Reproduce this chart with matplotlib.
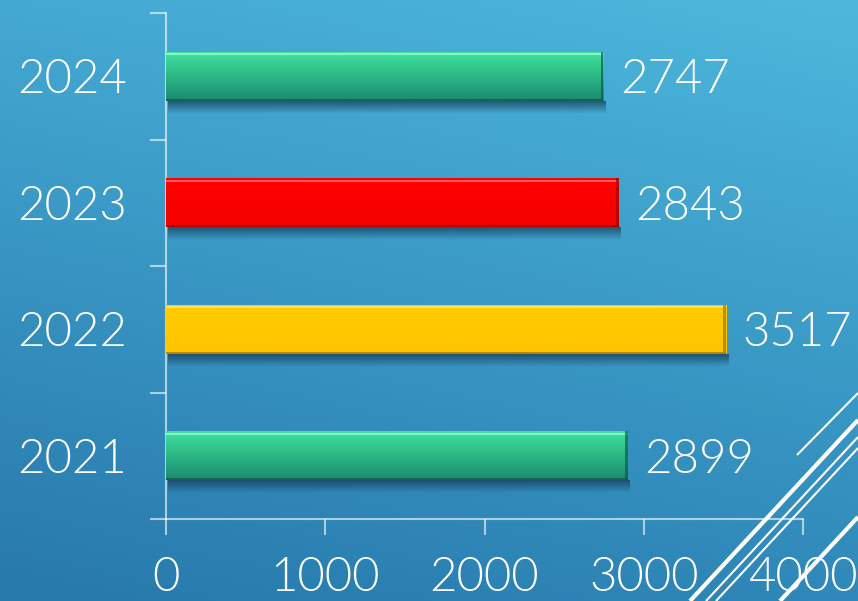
import numpy as np
import matplotlib
matplotlib.use('Agg')
import matplotlib.pyplot as plt
from matplotlib.colors import to_rgb
from matplotlib.patches import Rectangle
from matplotlib.lines import Line2D

years = ['2021', '2022', '2023', '2024']
values = [2899, 3517, 2843, 2747]
bar_top_colors = ['#40e49d', '#ffcc00', '#ff0000', '#40e49d']
bar_bottom_colors = ['#1a8a70', '#ffc400', '#f40000', '#1a8a70']
bar_light = ['#9af7d6', '#ffe370', '#ff6a6a', '#9af7d6']
bar_dark = ['#0f5a48', '#9c7600', '#9a0000', '#0f5a48']
xticks = [0, 1000, 2000, 3000, 4000]

W, H = 858, 601
fig = plt.figure(figsize=(W / 100, H / 100), dpi=100)
plt.rcParams['font.family'] = ['Lato', 'DejaVu Sans']
plt.rcParams['font.weight'] = 300
FS = 34

# background gradient
bg = fig.add_axes([0, 0, 1, 1], zorder=0)
gh, gw = 200, 300
yy, xx = np.mgrid[0:1:gh * 1j, 0:1:gw * 1j]
tl = np.array(to_rgb('#44a9d3')); tr = np.array(to_rgb('#4db8dc'))
bl = np.array(to_rgb('#2778ab')); br = np.array(to_rgb('#2f88b9'))
X = xx[..., None]; Y = yy[..., None]
img = tl * (1 - X) * (1 - Y) + tr * X * (1 - Y) + bl * (1 - X) * Y + br * X * Y
bg.imshow(img, extent=[0, 1, 0, 1], aspect='auto', origin='upper')
bg.set_xlim(0, 1); bg.set_ylim(0, 1)
bg.axis('off')

ax = fig.add_axes([166 / W, 1 - 519 / H, 637 / W, 506 / H], zorder=1)
ax.set_facecolor('none')
ypos = np.arange(len(years))
bh = 0.39
bars = ax.barh(ypos, values, height=bh, color=bar_top_colors, zorder=3)

for i, (b, v) in enumerate(zip(bars, values)):
    y0 = ypos[i] - bh / 2
    y1 = ypos[i] + bh / 2
    # shadow
    sh = np.zeros((30, 2, 4))
    sc = np.array(to_rgb('#133650'))
    sh[..., :3] = sc
    sh[..., 3] = np.linspace(0.7, 0.0, 30)[:, None]
    ax.imshow(sh, extent=[12, v + 12, y0 - 0.10, y0], aspect='auto',
              origin='upper', zorder=2, interpolation='bilinear')
    # vertical gradient fill
    g = np.linspace(0, 1, 60)[:, None, None]
    ct = np.array(to_rgb(bar_top_colors[i])); cb = np.array(to_rgb(bar_bottom_colors[i]))
    grad = ct * (1 - g) + cb * g
    grad = np.repeat(grad, 2, axis=1)
    im = ax.imshow(grad, extent=[0, v, y0, y1], aspect='auto', origin='upper',
                   zorder=3.1, interpolation='bilinear')
    im.set_clip_path(b)
    # bevel: top highlight, bottom dark, right dark edge
    ax.add_patch(Rectangle((0, y1 - 0.028), v, 0.016, color=bar_light[i],
                           alpha=0.85, lw=0, zorder=3.2))
    ax.add_patch(Rectangle((0, y0), v, 0.018, color=bar_dark[i],
                           alpha=0.75, lw=0, zorder=3.2))
    ax.add_patch(Rectangle((v - 18, y0), 18, bh, color=bar_dark[i],
                           alpha=0.7, lw=0, zorder=3.3))
    ax.annotate(str(v), xy=(v, ypos[i]), xytext=(12, -3), textcoords='offset points',
                ha='left', va='center', fontsize=FS, color='white', zorder=5)

ax.set_xlim(0, 4000)
ax.set_ylim(-0.5, 3.5)
for s in ['top', 'right']:
    ax.spines[s].set_visible(False)
axis_col = (1, 1, 1, 0.6)
for s in ['left', 'bottom']:
    ax.spines[s].set_color(axis_col)
    ax.spines[s].set_linewidth(1.5)

ax.set_xticks(xticks)
ax.set_xticklabels([str(t) for t in xticks])
ax.tick_params(axis='x', length=11.5, width=1.5, color=axis_col, direction='out',
               pad=16, labelsize=FS, labelcolor='white')

ax.set_yticks(np.arange(-0.5, len(years), 1.0))
ax.set_yticklabels([])
ax.tick_params(axis='y', which='major', length=11.5, width=1.5, color=axis_col,
               direction='out')
ax.set_yticks(ypos, minor=True)
ax.set_yticklabels(years, minor=True)
ax.tick_params(axis='y', which='minor', length=0, pad=107, labelsize=FS,
               labelcolor='white')
for lab in ax.get_yticklabels(minor=True):
    lab.set_horizontalalignment('left')

# decorative diagonal lines (bottom-right corner)
deco = [((797, 455), (858, 393), 1.5),
        ((690, 601), (858, 420), 3.0),
        ((706, 601), (858, 437), 1.5),
        ((716, 601), (858, 448), 1.5),
        ((780, 601), (858, 517), 3.0)]
for (xa, ya), (xb, yb), lw in deco:
    fig.add_artist(Line2D([xa / W, xb / W], [1 - ya / H, 1 - yb / H],
                          transform=fig.transFigure, color='white', lw=lw,
                          zorder=10, solid_capstyle='butt'))

fig.savefig('out.png', dpi=100)
